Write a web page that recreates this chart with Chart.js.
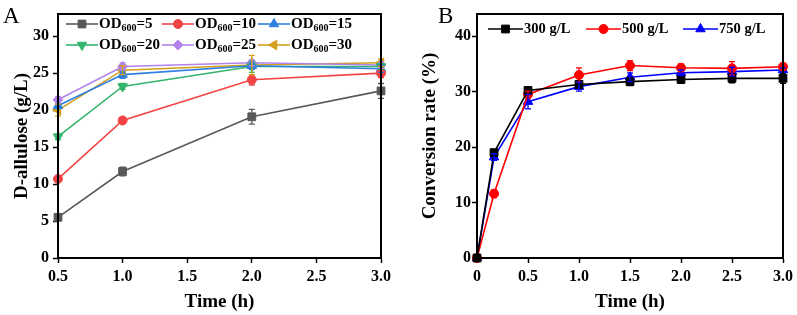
<!DOCTYPE html>
<html lang="en">
<head>
  <meta charset="UTF-8">
  <title>D-allulose time course</title>
  <style>
    body { margin: 0; background: #fff; }
    .wrap { position: relative; width: 797px; height: 315px; }
    .panel { position: absolute; top: 0; height: 315px; }
    .tag { position: absolute; font: 23px "Liberation Serif", serif; line-height: 1; color: #000; }
  </style>
</head>
<body>
  <div class="wrap">
    <div class="panel" style="left:0;width:400px"><canvas id="chartA"></canvas></div>
    <div class="panel" style="left:400px;width:397px"><canvas id="chartB"></canvas></div>
    <div class="tag" style="left:3px;top:4px">A</div>
    <div class="tag" style="left:438px;top:4px">B</div>
  </div>

  <script src="https://cdn.jsdelivr.net/npm/chart.js"></script>
  <script>
    // panel A: D-allulose (g/L) vs time, different cell densities
    const timeA = [0.5, 1.0, 2.0, 3.0];
    const labelsA = ['OD600=5', 'OD600=10', 'OD600=15', 'OD600=20', 'OD600=25', 'OD600=30'];
    const od5  = [5.5, 11.7, 19.1, 22.6];
    const od10 = [10.7, 18.6, 24.1, 25.0];
    const od15 = [20.6, 24.8, 26.0, 25.6];
    const od20 = [16.4, 23.2, 25.9, 25.9];
    const od25 = [21.4, 25.9, 26.4, 26.1];
    const od30 = [20.0, 25.4, 26.1, 26.4];
    const od5Err  = [0.4, 0.6, 1.0, 1.0];
    const od10Err = [0.3, 0.4, 0.7, 0.6];
    const od15Err = [0.4, 0.5, 0.5, 0.5];
    const od20Err = [0.4, 0.4, 0.8, 0.4];
    const od25Err = [0.4, 0.5, 0.4, 0.4];
    const od30Err = [0.8, 0.6, 1.3, 0.5];

    // panel B: conversion rate (%) vs time, different substrate loads
    const timeB = [0, 0.167, 0.5, 1.0, 1.5, 2.0, 2.5, 3.0];
    const labelsB = ['300 g/L', '500 g/L', '750 g/L'];
    const c300 = [0, 19.0, 30.2, 31.3, 31.8, 32.2, 32.4, 32.4];
    const c500 = [0, 11.6, 29.5, 33.0, 34.7, 34.3, 34.2, 34.5];
    const c750 = [0, 18.2, 28.2, 30.9, 32.6, 33.4, 33.6, 33.9];
    const c300Err = [0, 0.5, 0.6, 0.6, 0.7, 0.7, 0.8, 0.9];
    const c500Err = [0, 0.7, 0.6, 1.3, 0.9, 0.7, 1.2, 0.6];
    const c750Err = [0, 0.6, 1.3, 0.8, 0.8, 0.5, 0.8, 0.4];

    const ticksA_x = [0.5, 1.0, 1.5, 2.0, 2.5, 3.0];
    const ticksA_y = [0, 5, 10, 15, 20, 25, 30];
    const ticksB_x = [0, 0.5, 1.0, 1.5, 2.0, 2.5, 3.0];
    const ticksB_y = [0, 10, 20, 30, 40];

    const SERIF = '"Liberation Serif", "Times New Roman", serif';

    function pts(xs, ys) {
      return xs.map((x, i) => ({ x: x, y: ys[i] }));
    }

    function series(label, xs, ys, errs, color, style, radius, rot) {
      return {
        label: label,
        data: pts(xs, ys),
        errors: errs,
        showLine: true,
        borderColor: color,
        backgroundColor: color,
        borderWidth: 1.6,
        pointStyle: style,
        pointRadius: radius,
        pointHoverRadius: radius,
        pointRotation: rot || 0,
        pointBorderWidth: 1,
        clip: false
      };
    }

    // box round the plot
    const frame = {
      id: 'frame',
      afterDraw(chart) {
        const { ctx, chartArea: a } = chart;
        ctx.save();
        ctx.lineWidth = 2;
        ctx.strokeStyle = '#000';
        ctx.strokeRect(a.left, a.top, a.right - a.left, a.bottom - a.top);
        ctx.restore();
      }
    };

    // error bars from each dataset's errors array
    const errorBars = {
      id: 'errorBars',
      afterDatasetsDraw(chart) {
        const ctx = chart.ctx;
        const ys = chart.scales.y;
        ctx.save();
        ctx.lineWidth = 1.3;
        chart.data.datasets.forEach((ds, i) => {
          if (!ds.errors) return;
          const meta = chart.getDatasetMeta(i);
          ctx.strokeStyle = ds.borderColor;
          meta.data.forEach((pt, j) => {
            const e = ds.errors[j];
            if (!e) return;
            const v = ds.data[j].y;
            const y1 = ys.getPixelForValue(v + e);
            const y2 = ys.getPixelForValue(v - e);
            ctx.beginPath();
            ctx.moveTo(pt.x, y1); ctx.lineTo(pt.x, y2);
            ctx.moveTo(pt.x - 3, y1); ctx.lineTo(pt.x + 3, y1);
            ctx.moveTo(pt.x - 3, y2); ctx.lineTo(pt.x + 3, y2);
            ctx.stroke();
          });
        });
        ctx.restore();
      }
    };

    // legend drawn inside the plot, OD600 written with a subscript
    const innerLegend = {
      id: 'innerLegend',
      afterDraw(chart) {
        const o = chart.options.plugins.innerLegend;
        if (!o) return;
        const ctx = chart.ctx;
        ctx.save();
        chart.data.datasets.forEach((ds, i) => {
          const col = i % o.cols.length;
          const row = Math.floor(i / o.cols.length);
          const x0 = o.cols[col];
          const y = o.rows[row];
          ctx.strokeStyle = ds.borderColor;
          ctx.fillStyle = ds.backgroundColor;
          ctx.lineWidth = 1.6;
          ctx.beginPath();
          ctx.moveTo(x0, y); ctx.lineTo(x0 + o.lineLen, y);
          ctx.stroke();
          ctx.lineWidth = 1;
          Chart.helpers.drawPoint(ctx, {
            pointStyle: ds.pointStyle, radius: ds.pointRadius,
            rotation: ds.pointRotation, borderWidth: 1
          }, x0 + o.lineLen / 2, y);

          ctx.fillStyle = '#000';
          ctx.textBaseline = 'middle';
          ctx.textAlign = 'left';
          let x = x0 + o.lineLen + 1;
          const main = 'bold ' + o.size + 'px ' + SERIF;
          const small = 'bold ' + Math.round(o.size * 0.66) + 'px ' + SERIF;
          const m = ds.label.match(/^OD600(.*)$/);
          if (m) {
            ctx.font = main;
            ctx.fillText('OD', x, y);
            x += ctx.measureText('OD').width;
            ctx.font = small;
            ctx.fillText('600', x, y + 4);
            x += ctx.measureText('600').width;
            ctx.font = main;
            ctx.fillText(m[1], x, y);
          } else {
            ctx.font = main;
            ctx.fillText(ds.label, x, y);
          }
        });
        ctx.restore();
      }
    };

    function axes(cfg) {
      const tickFont = { family: SERIF, size: 16, weight: 'bold' };
      const titleFont = { family: SERIF, size: 19, weight: 'bold' };
      const grid = { drawOnChartArea: false, drawTicks: true, tickLength: 5, tickWidth: 1.5, color: '#000' };
      return {
        x: {
          type: 'linear', min: cfg.xMin, max: cfg.xMax,
          border: { width: 2, color: '#000' },
          grid: grid,
          afterBuildTicks: s => { s.ticks = cfg.xTicks.map(v => ({ value: v })); },
          afterFit: s => { s.height = cfg.xHeight; },
          ticks: {
            color: '#000', font: tickFont, padding: 4, maxRotation: 0,
            callback: v => (v === 0 ? '0' : v.toFixed(1))
          },
          title: { display: true, text: 'Time (h)', color: '#000', font: titleFont, padding: { bottom: 2 } }
        },
        y: {
          type: 'linear', min: cfg.yMin, max: cfg.yMax,
          border: { width: 2, color: '#000' },
          grid: grid,
          afterBuildTicks: s => { s.ticks = cfg.yTicks.map(v => ({ value: v })); },
          afterFit: s => { s.width = cfg.yWidth; },
          ticks: { color: '#000', font: tickFont, padding: cfg.yPad },
          title: { display: true, text: cfg.yTitle, color: '#000', font: titleFont, padding: { top: cfg.yTitlePad } }
        }
      };
    }

    new Chart(document.getElementById('chartA'), {
      type: 'scatter',
      data: {
        datasets: [
          series(labelsA[0], timeA, od5, od5Err, '#595959', 'rect', 5.5),
          series(labelsA[1], timeA, od10, od10Err, '#f24444', 'circle', 4.5),
          series(labelsA[2], timeA, od15, od15Err, '#2f7fe0', 'triangle', 5.5),
          series(labelsA[3], timeA, od20, od20Err, '#35b46c', 'triangle', 5.5, 180),
          series(labelsA[4], timeA, od25, od25Err, '#b283ea', 'rectRot', 5),
          series(labelsA[5], timeA, od30, od30Err, '#d3a01c', 'triangle', 5.5, 270)
        ]
      },
      options: {
        responsive: true, maintainAspectRatio: false, animation: false,
        layout: { padding: { top: 14, right: 19, left: 0, bottom: 0 } },
        plugins: {
          legend: { display: false }, tooltip: { enabled: false },
          innerLegend: { cols: [66, 162, 258], rows: [24, 45], lineLen: 32, size: 15 }
        },
        scales: axes({
          xMin: 0.5, xMax: 3.0, xTicks: ticksA_x, xHeight: 57,
          yMin: 0, yMax: 33, yTicks: ticksA_y, yWidth: 58, yPad: 4,
          yTitle: 'D-allulose (g/L)', yTitlePad: 11
        })
      },
      plugins: [errorBars, frame, innerLegend]
    });

    new Chart(document.getElementById('chartB'), {
      type: 'scatter',
      data: {
        datasets: [
          series(labelsB[0], timeB, c300, c300Err, '#000000', 'rect', 5.5),
          series(labelsB[1], timeB, c500, c500Err, '#ff0000', 'circle', 4.5),
          series(labelsB[2], timeB, c750, c750Err, '#0000ff', 'triangle', 5.5)
        ]
      },
      options: {
        responsive: true, maintainAspectRatio: false, animation: false,
        layout: { padding: { top: 14, right: 14, left: 0, bottom: 0 } },
        plugins: {
          legend: { display: false }, tooltip: { enabled: false },
          innerLegend: { cols: [88, 186, 283], rows: [29], lineLen: 35, size: 14.5 }
        },
        scales: axes({
          xMin: 0, xMax: 3.0, xTicks: ticksB_x, xHeight: 57,
          yMin: 0, yMax: 44, yTicks: ticksB_y, yWidth: 77, yPad: 1,
          yTitle: 'Conversion rate (%)', yTitlePad: 19
        })
      },
      plugins: [errorBars, frame, innerLegend]
    });
  </script>
</body>
</html>
